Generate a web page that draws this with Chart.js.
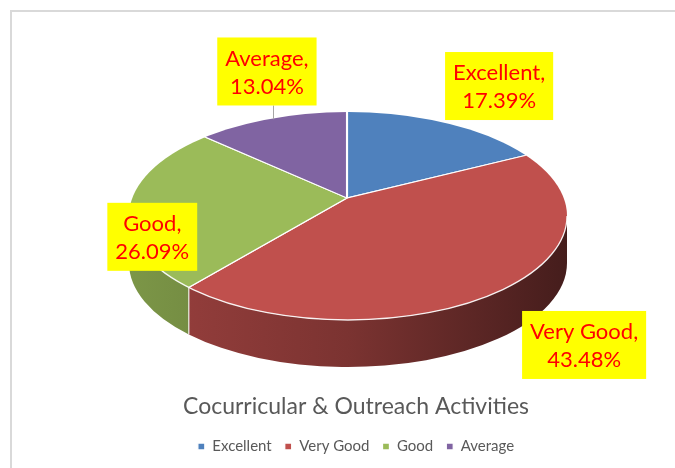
<!DOCTYPE html>
<html>
<head>
<meta charset="utf-8">
<script src="https://cdn.jsdelivr.net/npm/chart.js@4.4.1/dist/chart.umd.min.js"></script>
<style>
  html, body { margin: 0; padding: 0; background: #fff; overflow: hidden; width: 675px; height: 468px; }
  #frame { position: absolute; left: 10px; top: 10px; width: 700px; height: 470px;
           border-left: 2px solid #d9d9d9; border-top: 2px solid #d9d9d9; }
  #c { display: block; }
</style>
</head>
<body>
<div id="frame"><canvas id="c" width="688" height="456"></canvas></div>
<script>
// ---- data ----
const categories = ['Excellent', 'Very Good', 'Good', 'Average'];
const counts = [4, 10, 6, 3];
const colors = ['#4F81BD', '#C0504D', '#9BBB59', '#8064A2'];
const chartTitle = 'Cocurricular & Outreach Activities';

// ---- look of the fake 3D pie (canvas px) ----
// top face = ellipse (cx,cy,rx,ry); slices meet at vx,vy (perspective), squashed by tilt
const pie3d = { cx: 336, cy: 204, rx: 219, ry: 104, vx: 335, vy: 186, tilt: 0.46, spread: 300, depth: 47 };
const labelShift = [[53, -37], [78, 57], [22, 32], [-5, -47]];
const leader = [false, false, false, true];
const labelFont = '22px Lato, "Liberation Sans", sans-serif';
const lineH = 28, padX = 8, padY = 6;

function shade(hex, f) {
  const n = parseInt(hex.slice(1), 16);
  const r = Math.round(((n >> 16) & 255) * f), g = Math.round(((n >> 8) & 255) * f), b = Math.round((n & 255) * f);
  return `rgb(${r},${g},${b})`;
}

// where a slice edge (library angle) hits the rim of the top ellipse
function rimHit(theta) {
  const { cx, cy, rx, ry, vx, vy, tilt } = pie3d;
  const px = (vx - cx) / rx, py = (vy - cy) / ry;
  const qx = Math.cos(theta) / rx, qy = tilt * Math.sin(theta) / ry;
  const qq = qx * qx + qy * qy, pq = px * qx + py * qy, pp = px * px + py * py;
  const t = (-pq + Math.sqrt(pq * pq - qq * (pp - 1))) / qq;
  const X = vx + t * Math.cos(theta), Y = vy + t * tilt * Math.sin(theta);
  return { x: X, y: Y, phi: Math.atan2((Y - cy) / ry, (X - cx) / rx) };
}

function drawLabels(chart) {
  const ctx = chart.ctx, meta = chart.getDatasetMeta(0);
  const { cx, cy, rx, ry } = pie3d;
  const total = counts.reduce((s, v) => s + v, 0);
  ctx.save();
  ctx.font = labelFont;
  ctx.textAlign = 'center'; ctx.textBaseline = 'middle';
  meta.data.forEach((arc, i) => {
    const { startAngle, endAngle } = arc.getProps(['startAngle', 'endAngle'], true);
    const hit = rimHit((startAngle + endAngle) / 2);
    const bx = hit.x + labelShift[i][0];
    const by = hit.y + labelShift[i][1];
    const lines = [categories[i] + ',', (counts[i] / total * 100).toFixed(2) + '%'];
    const w = Math.max(...lines.map(l => ctx.measureText(l).width)) + padX * 2;
    const h = lineH * 2 + padY * 2;
    if (leader[i]) {
      const lx = Math.round(bx + 6) + 0.5;
      const t = (lx - cx) / rx;
      const ey = cy - ry * Math.sqrt(Math.max(0, 1 - t * t));
      ctx.strokeStyle = '#a6a6a6'; ctx.lineWidth = 1;
      ctx.beginPath(); ctx.moveTo(lx, by + h / 2); ctx.lineTo(lx, ey + 1); ctx.stroke();
    }
    ctx.fillStyle = '#FFFF00';
    ctx.fillRect(bx - w / 2, by - h / 2, w, h);
    ctx.fillStyle = '#FF0000';
    ctx.fillText(lines[0], bx, by - lineH / 2 + 1);
    ctx.fillText(lines[1], bx, by + lineH / 2 + 1);
  });
  ctx.restore();
}

const pie3dPlugin = {
  id: 'pie3d',
  beforeDatasetsDraw(chart) {
    const ctx = chart.ctx, meta = chart.getDatasetMeta(0);
    const { cx, cy, rx, ry, vx, vy, tilt, spread, depth } = pie3d;
    const seams = [];
    // side wall, only the front half of the rim is visible
    meta.data.forEach((arc, i) => {
      const { startAngle, endAngle } = arc.getProps(['startAngle', 'endAngle'], true);
      let s = rimHit(startAngle).phi, e = rimHit(endAngle).phi;
      while (e <= s) e += 2 * Math.PI;
      [[-2 * Math.PI, -Math.PI], [0, Math.PI], [2 * Math.PI, 3 * Math.PI]].forEach(([lo, hi]) => {
        const a = Math.max(s, lo), b = Math.min(e, hi);
        if (b <= a) return;
        const g = ctx.createLinearGradient(cx - rx, 0, cx + rx, 0);
        g.addColorStop(0, shade(colors[i], 0.8));
        g.addColorStop(0.5, shade(colors[i], 0.64));
        g.addColorStop(1, shade(colors[i], 0.36));
        ctx.beginPath();
        ctx.ellipse(cx, cy, rx, ry, 0, a, b);
        ctx.ellipse(cx, cy + depth, rx, ry, 0, b, a, true);
        ctx.closePath();
        ctx.fillStyle = g;
        ctx.fill();
        if (a > lo) seams.push(a);
      });
    });
    ctx.strokeStyle = 'rgba(255,255,255,0.85)'; ctx.lineWidth = 1.2;
    seams.forEach(t => {
      const px = cx + rx * Math.cos(t), py = cy + ry * Math.sin(t);
      ctx.beginPath(); ctx.moveTo(px, py); ctx.lineTo(px, py + depth); ctx.stroke();
    });
    // squash the library's round pie and clip it to the top ellipse
    const { x, y, outerRadius } = meta.data[0].getProps(['x', 'y', 'outerRadius'], true);
    ctx.save();
    ctx.beginPath();
    ctx.ellipse(cx, cy, rx, ry, 0, 0, 2 * Math.PI);
    ctx.clip();
    ctx.translate(vx, vy);
    ctx.scale(spread / outerRadius, spread * tilt / outerRadius);
    ctx.translate(-x, -y);
  },
  afterDatasetsDraw(chart) {
    const ctx = chart.ctx;
    const { cx, cy, rx, ry } = pie3d;
    ctx.restore();
    ctx.save();
    ctx.strokeStyle = 'rgba(255,255,255,0.9)'; ctx.lineWidth = 1.3;
    ctx.beginPath(); ctx.ellipse(cx, cy, rx, ry, 0, 0, Math.PI); ctx.stroke();
    ctx.restore();
    drawLabels(chart);
  }
};

new Chart(document.getElementById('c'), {
  type: 'pie',
  data: {
    labels: categories,
    datasets: [{
      data: counts,
      backgroundColor: colors,
      borderColor: '#ffffff',
      borderWidth: 1.3,
      clip: false
    }]
  },
  options: {
    responsive: false,
    animation: false,
    layout: { padding: { bottom: 4 } },
    plugins: {
      tooltip: { enabled: false },
      title: {
        display: true, text: chartTitle, position: 'bottom', weight: 500,
        color: '#595959', font: { family: 'Lato, "Liberation Sans", sans-serif', size: 23, weight: 'normal' },
        padding: { top: 10, bottom: 6 }
      },
      legend: {
        position: 'bottom',
        labels: {
          color: '#595959', boxWidth: 7, boxHeight: 7, padding: 13,
          font: { family: 'Lato, "Liberation Sans", sans-serif', size: 15 }
        }
      }
    }
  },
  plugins: [pie3dPlugin]
});
</script>
</body>
</html>
